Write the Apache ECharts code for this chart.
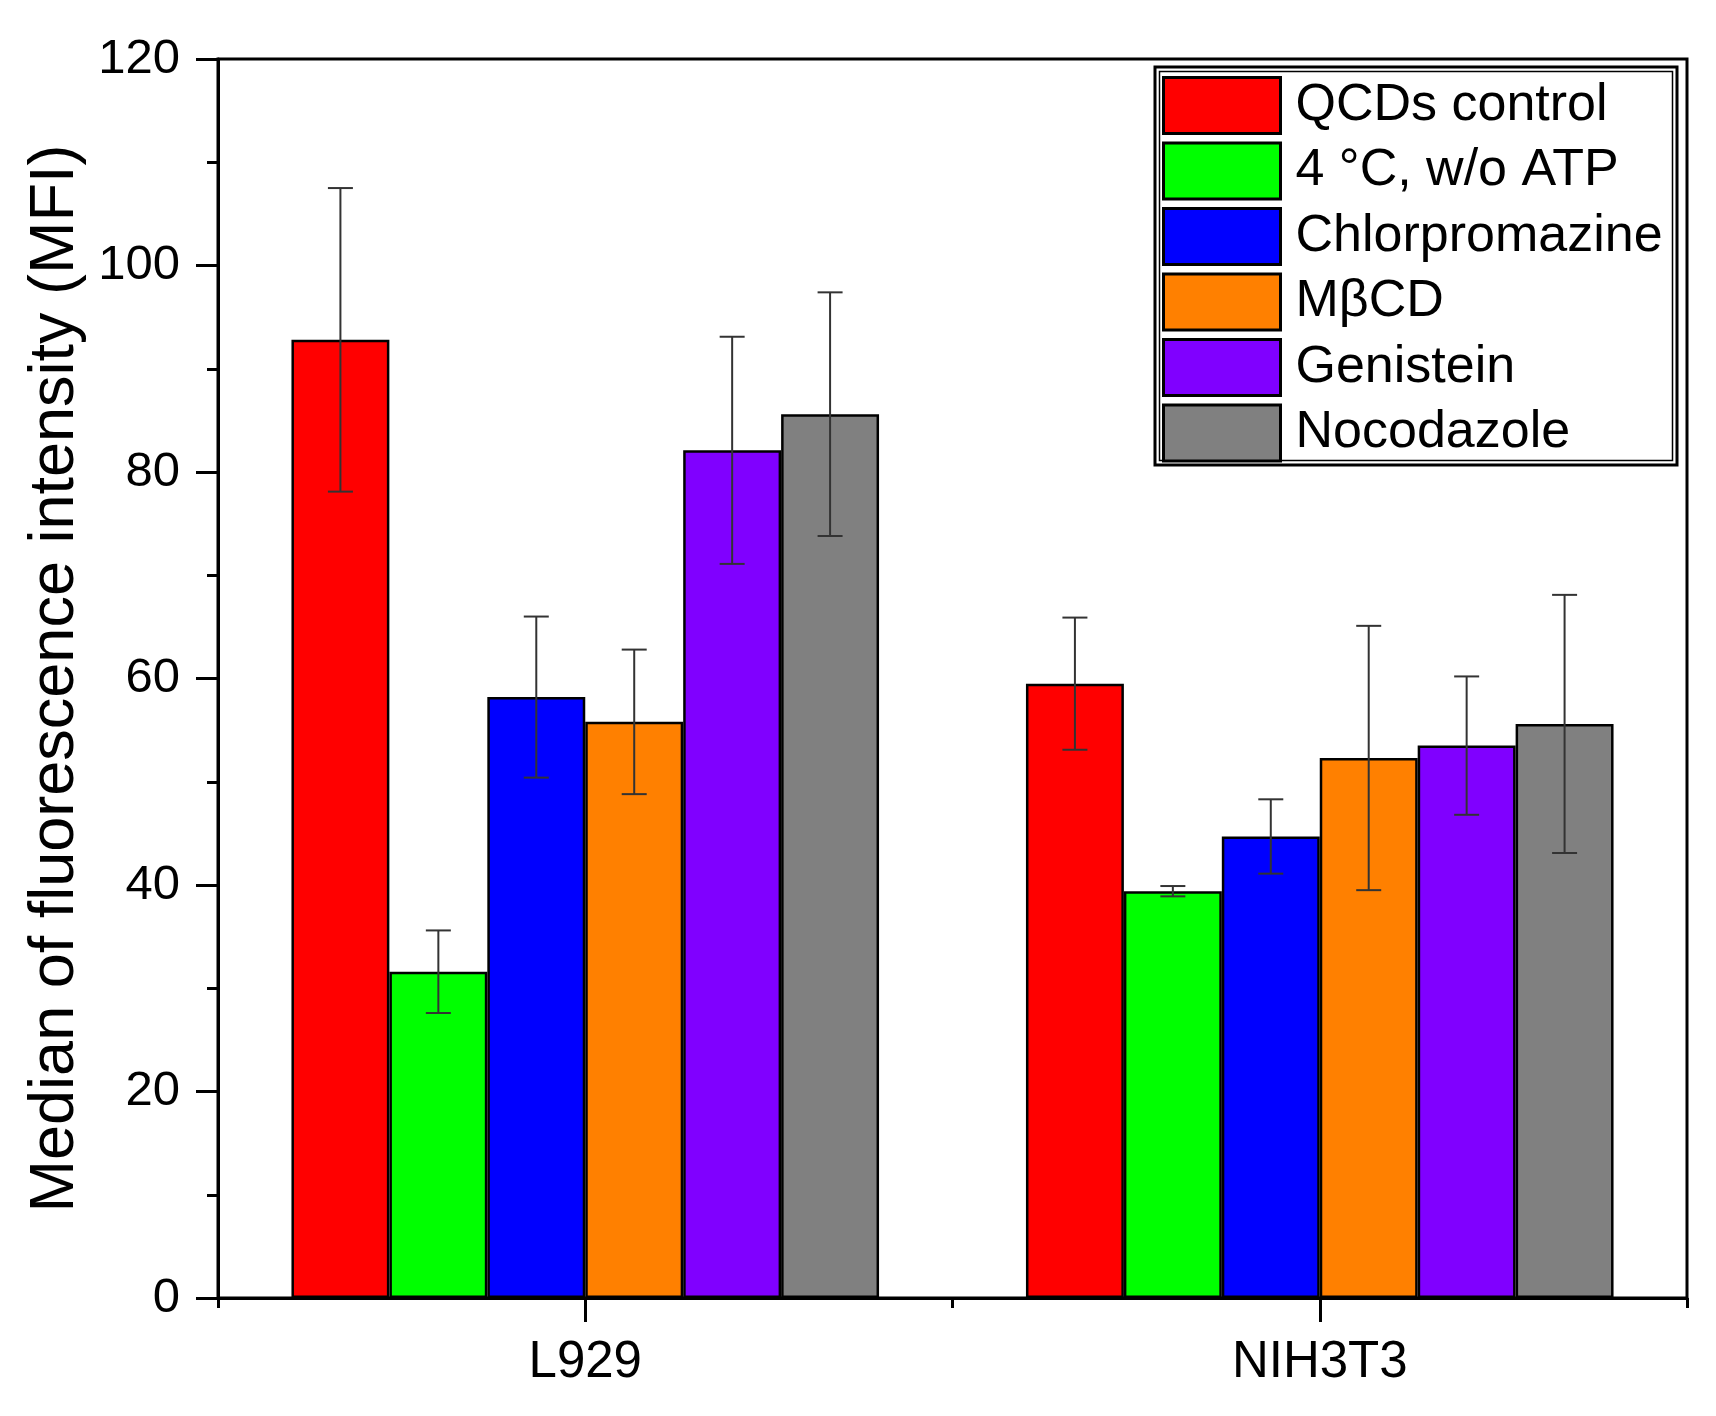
<!DOCTYPE html>
<html>
<head>
<meta charset="utf-8">
<script src="https://cdn.jsdelivr.net/npm/echarts@6/dist/echarts.min.js"></script>
<style>
html,body{margin:0;padding:0;background:#fff;}
#chart{width:1716px;height:1416px;}
</style>
</head>
<body>
<div id="chart"></div>
<script>
const categories = ['L929', 'NIH3T3'];
const seriesNames = ['QCDs control', '4 \u00b0C, w/o ATP', 'Chlorpromazine', 'M\u03b2CD', 'Genistein', 'Nocodazole'];
const seriesColors = ['#ff0000', '#00ff00', '#0000ff', '#ff8000', '#8000ff', '#808080'];
const qcdsControl = [92.8, 59.5];
const coldNoATP = [31.6, 39.4];
const chlorpromazine = [58.2, 44.7];
const mbcd = [55.8, 52.3];
const genistein = [82.1, 53.5];
const nocodazole = [85.6, 55.6];
const qcdsControlErr = [14.7, 6.4];
const coldNoATPErr = [4.0, 0.5];
const chlorpromazineErr = [7.8, 3.6];
const mbcdErr = [7.0, 12.8];
const genisteinErr = [11.0, 6.7];
const nocodazoleErr = [11.8, 12.5];
const yTicks = [0, 20, 40, 60, 80, 100, 120];

const values = [qcdsControl, coldNoATP, chlorpromazine, mbcd, genistein, nocodazole];
const errors = [qcdsControlErr, coldNoATPErr, chlorpromazineErr, mbcdErr, genisteinErr, nocodazoleErr];
const nSeries = values.length;
const groupFrac = 0.8;

const errData = [];
values.forEach((arr, s) => arr.forEach((v, c) => errData.push([c, s, v, errors[s][c]])));

const font = 'Liberation Sans, Arial, sans-serif';
const chart = echarts.init(document.getElementById('chart'));

const barSeries = values.map((arr, s) => ({
  type: 'bar',
  name: seriesNames[s],
  data: arr,
  barGap: '0%',
  barCategoryGap: '20%',
  itemStyle: { color: seriesColors[s], borderColor: '#000', borderWidth: 2.5 },
  emphasis: { disabled: true },
  z: 2
}));

const errSeries = {
  type: 'custom',
  name: 'err',
  data: errData,
  z: 5,
  silent: true,
  renderItem: function (params, api) {
    const c = api.value(0), s = api.value(1), v = api.value(2), e = api.value(3);
    const band = api.size([1, 0])[0];
    const group = band * groupFrac;
    const bw = group / nSeries;
    const center = api.coord([c, v]);
    const x = center[0] - group / 2 + (s + 0.5) * bw;
    const yHi = api.coord([c, v + e])[1];
    const yLo = api.coord([c, v - e])[1];
    const cap = 12.5;
    const style = { stroke: '#333', lineWidth: 2 };
    return {
      type: 'group',
      children: [
        { type: 'line', shape: { x1: x, y1: yHi, x2: x, y2: yLo }, style: style },
        { type: 'line', shape: { x1: x - cap, y1: yHi, x2: x + cap, y2: yHi }, style: style },
        { type: 'line', shape: { x1: x - cap, y1: yLo, x2: x + cap, y2: yLo }, style: style }
      ]
    };
  }
};

chart.setOption({
  backgroundColor: '#fff',
  animation: false,
  grid: { left: 218, right: 29, top: 59, bottom: 118, show: true, borderColor: '#000', borderWidth: 3, backgroundColor: 'transparent' },
  legend: {
    data: seriesNames,
    icon: 'rect',
    orient: 'vertical',
    left: 1162,
    top: 76,
    itemWidth: 117,
    itemHeight: 56,
    itemGap: 6.5,
    padding: 0,
    textStyle: { fontFamily: font, fontSize: 52, lineHeight: 56, color: '#000', padding: [0, 0, 0, 10] },
    itemStyle: { borderColor: '#000', borderWidth: 3 },
    selectedMode: false
  },
  xAxis: [{
    type: 'category',
    data: categories,
    position: 'bottom',
    axisLine: { show: true, lineStyle: { color: '#000', width: 3 } },
    axisTick: { show: true, length: 10, inside: false, lineStyle: { color: '#000', width: 3 } },
    axisLabel: { fontFamily: font, fontSize: 51, color: '#000', margin: 39 },
    splitLine: { show: false }
  }, {
    type: 'category',
    data: categories,
    position: 'bottom',
    axisLine: { show: false },
    axisTick: { show: true, alignWithLabel: true, length: 24, lineStyle: { color: '#000', width: 3 } },
    axisLabel: { show: false },
    splitLine: { show: false }
  }],
  yAxis: {
    type: 'value',
    min: yTicks[0],
    max: yTicks[yTicks.length - 1],
    interval: 20,
    name: 'Median of fluorescence intensity (MFI)',
    nameLocation: 'middle',
    nameGap: 131,
    nameTextStyle: { fontFamily: font, fontSize: 63, color: '#000' },
    axisLine: { show: true, lineStyle: { color: '#000', width: 3 } },
    axisTick: { show: true, length: 22, lineStyle: { color: '#000', width: 3 } },
    minorTick: { show: true, splitNumber: 2, length: 11, lineStyle: { color: '#000', width: 3 } },
    axisLabel: { fontFamily: font, fontSize: 49, color: '#000', margin: 38 },
    splitLine: { show: false }
  },
  graphic: [{
    type: 'rect',
    shape: { x: 1155, y: 67, width: 522, height: 398 },
    style: { fill: 'none', stroke: '#000', lineWidth: 3 },
    z: 1
  }, {
    type: 'rect',
    shape: { x: 1159.5, y: 71.5, width: 513, height: 389 },
    style: { fill: 'none', stroke: '#000', lineWidth: 1.5 },
    z: 1
  }],
  series: barSeries.concat([errSeries])
});
</script>
</body>
</html>
